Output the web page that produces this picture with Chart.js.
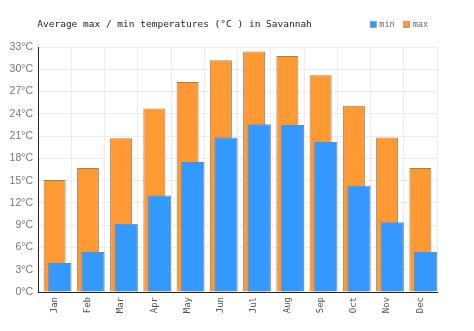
<!DOCTYPE html>
<html><head><meta charset="utf-8">
<script src="https://cdn.jsdelivr.net/npm/chart.js@4/dist/chart.umd.min.js"></script>
<style>html,body{margin:0;padding:0;background:#fff}</style>
</head><body>
<canvas id="c" width="474" height="331" style="display:block;width:474px;height:331px"></canvas>
<script>
const months = ['Jan','Feb','Mar','Apr','May','Jun','Jul','Aug','Sep','Oct','Nov','Dec'];
const maxTemps = [15.1, 16.7, 20.7, 24.7, 28.3, 31.2, 32.4, 31.8, 29.2, 25.1, 20.8, 16.7];
const minTemps = [3.9, 5.4, 9.2, 13.0, 17.5, 20.8, 22.6, 22.5, 20.2, 14.3, 9.4, 5.4];
const seriesLabels = ['min', 'max'];
const chartTitle = 'Average max / min temperatures (°C ) in Savannah';
const yMin = 0, yMax = 33, yStep = 3;
const unit = '°C';
const minShift = 0.154; // blue bars sit slightly right of each month's centre

const headerPlugin = {
  id: 'header',
  afterDraw(chart) {
    const ctx = chart.ctx;
    ctx.save();
    ctx.textBaseline = 'middle';
    const cy = 24.5;
    // title
    ctx.font = '9.5px "DejaVu Sans Mono"';
    ctx.fillStyle = '#222';
    ctx.textAlign = 'left';
    ctx.fillText(chartTitle, 37.3, cy);
    // legend
    ctx.font = '8.5px "DejaVu Sans Mono"';
    const box = 6, gap = 3, itemGap = 9, rightEdge = 428;
    const items = chart.data.datasets.map(d => ({label: d.label, fill: d.backgroundColor, stroke: d.borderColor, w: ctx.measureText(d.label).width}));
    const total = items.reduce((s, it) => s + box + gap + it.w, 0) + itemGap * (items.length - 1);
    let x = rightEdge - total;
    items.forEach(it => {
      ctx.fillStyle = it.fill;
      ctx.fillRect(x, cy - box / 2, box, box);
      ctx.strokeStyle = it.stroke;
      ctx.lineWidth = 0.6;
      ctx.strokeRect(x, cy - box / 2, box, box);
      ctx.fillStyle = '#666';
      ctx.fillText(it.label, x + box + gap, cy);
      x += box + gap + it.w + itemGap;
    });
    ctx.restore();
  }
};

new Chart(document.getElementById('c'), {
  type: 'bar',
  data: {
    labels: months,
    datasets: [
      {
        label: seriesLabels[0],
        data: minTemps.map((v, i) => ({x: i, y: v})),
        xAxisID: 'x2',
        grouped: false,
        backgroundColor: '#3399ff',
        borderColor: '#6d8cab',
        borderWidth: 1,
        categoryPercentage: 1,
        barPercentage: 0.70
      },
      {
        label: seriesLabels[1],
        data: maxTemps,
        xAxisID: 'x',
        grouped: false,
        backgroundColor: '#ff9933',
        borderColor: '#977f68',
        borderWidth: 1,
        categoryPercentage: 1,
        barPercentage: 0.663
      }
    ]
  },
  options: {
    responsive: false,
    animation: false,
    devicePixelRatio: 1,
    layout: {padding: {left: 0, right: 37, top: 47, bottom: 0}},
    plugins: {
      legend: {display: false},
      tooltip: {enabled: false},
      title: {display: false}
    },
    scales: {
      x: {
        type: 'category',
        offset: true,
        grid: {color: '#ececec', drawTicks: false, offset: true},
        border: {color: '#222', width: 1},
        ticks: {
          minRotation: 90, maxRotation: 90, autoSkip: false, padding: 5,
          color: '#555',
          font: {family: 'DejaVu Sans Mono', size: 9}
        },
        afterFit(s) { s.height = 39; }
      },
      x2: {
        type: 'linear',
        display: false,
        offset: false,
        min: -0.5 - minShift,
        max: 11.5 - minShift
      },
      y: {
        min: yMin, max: yMax,
        grid: {color: '#ececec', drawTicks: false},
        border: {color: '#222', width: 1},
        ticks: {
          stepSize: yStep,
          padding: 5,
          color: '#777',
          font: {family: 'Liberation Sans', size: 10.5},
          callback: v => v + unit
        },
        afterFit(s) { s.width = 38; }
      }
    }
  },
  plugins: [headerPlugin]
});
</script>
</body></html>
